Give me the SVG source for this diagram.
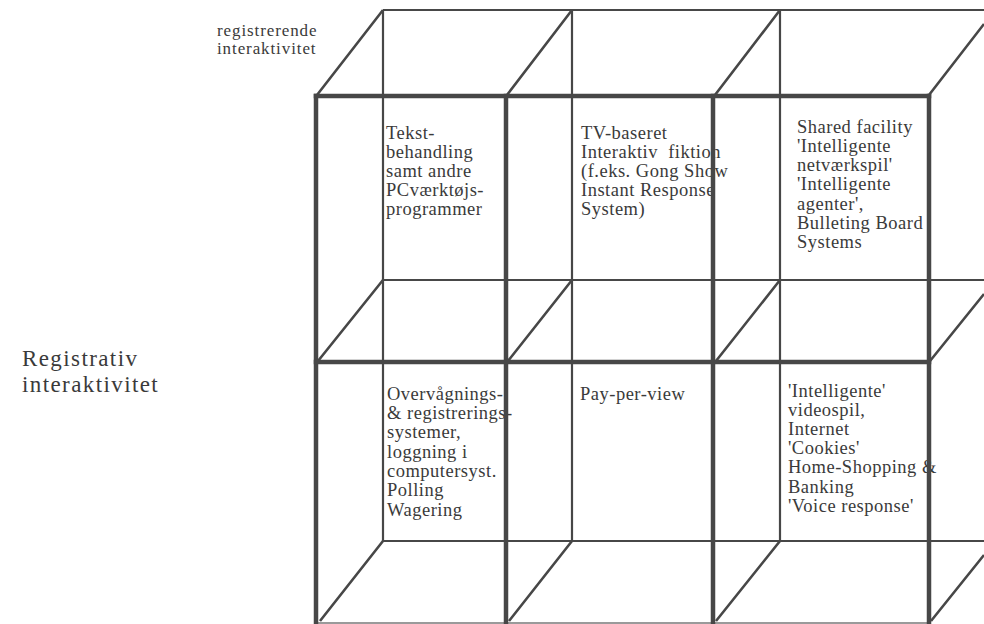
<svg xmlns="http://www.w3.org/2000/svg" width="984" height="624" viewBox="0 0 984 624">
<style>
.bg{fill:#ffffff}
.t{font-family:"Liberation Serif","Times New Roman",serif;fill:#3a3a3a;font-size:18.5px;letter-spacing:0.5px}
.big{font-size:23px;letter-spacing:1.4px}
.small{font-size:17px;letter-spacing:0.9px}
.thick{stroke:#474747;stroke-width:4.5;fill:none;stroke-linecap:square}
.thin{stroke:#474747;stroke-width:2.2;fill:none}
.diag{stroke:#474747;stroke-width:2.6;fill:none}
.faint{stroke:#9a9a9a;stroke-width:2;fill:none}
</style>
<rect class="bg" x="0" y="0" width="984" height="624"/>

<g id="labels">
<text class="t small" x="217" y="36">registrerende</text>
<text class="t small" x="217" y="54">interaktivitet</text>
<text class="t big" x="22" y="366">Registrativ</text>
<text class="t big" x="22" y="392">interaktivitet</text>
</g>

<g id="cell-top-left">
<text class="t" x="386" y="139">Tekst-</text>
<text class="t" x="386" y="158">behandling</text>
<text class="t" x="386" y="177">samt andre</text>
<text class="t" x="386" y="196">PCværktøjs-</text>
<text class="t" x="386" y="215">programmer</text>
</g>

<g id="cell-top-middle">
<text class="t" x="581" y="139">TV-baseret</text>
<text class="t" x="581" y="158" xml:space="preserve">Interaktiv  fiktion</text>
<text class="t" x="581" y="177">(f.eks. Gong Show</text>
<text class="t" x="581" y="196">Instant Response</text>
<text class="t" x="581" y="215">System)</text>
</g>

<g id="cell-top-right">
<text class="t" x="797" y="133">Shared facility</text>
<text class="t" x="797" y="152">'Intelligente</text>
<text class="t" x="797" y="171">netværkspil'</text>
<text class="t" x="797" y="190">'Intelligente</text>
<text class="t" x="797" y="210">agenter',</text>
<text class="t" x="797" y="229">Bulleting Board</text>
<text class="t" x="797" y="248">Systems</text>
</g>

<g id="cell-bottom-left">
<text class="t" x="387" y="400">Overvågnings-</text>
<text class="t" x="387" y="419">&amp; registrerings-</text>
<text class="t" x="387" y="438">systemer,</text>
<text class="t" x="387" y="458">loggning i</text>
<text class="t" x="387" y="477">computersyst.</text>
<text class="t" x="387" y="496">Polling</text>
<text class="t" x="387" y="516">Wagering</text>
</g>

<g id="cell-bottom-middle">
<text class="t" x="580" y="400">Pay-per-view</text>
</g>

<g id="cell-bottom-right">
<text class="t" x="788" y="397">'Intelligente'</text>
<text class="t" x="788" y="416">videospil,</text>
<text class="t" x="788" y="435">Internet</text>
<text class="t" x="788" y="454">'Cookies'</text>
<text class="t" x="788" y="473">Home-Shopping &amp;</text>
<text class="t" x="788" y="493">Banking</text>
<text class="t" x="788" y="512">'Voice response'</text>
</g>

<g id="connectors">
<!-- back face -->
<path class="thin" d="M383,10 H984 M383,280 H984 M383,541 H984 M383,10 V541 M572,10 V541 M780,10 V541"/>
<!-- depth diagonals -->
<path class="diag" d="M317,95 L383,10 M507,95 L572,10 M715,95 L780,10 M929,95 L984,24"/>
<path class="diag" d="M318,361 L383,280 M508,361 L572,280 M716,361 L780,280 M930,361 L984,294"/>
<path class="diag" d="M320,621 L383,541 M509,621 L572,541 M716,621 L780,541 M931,621 L984,555"/>
<!-- front face -->
<path class="faint" d="M316,623 H929"/>
<path class="thick" d="M316,96 H929 M316,362 H929"/>
<path class="thick" d="M316,96 V630 M506,96 V630 M713,96 V630 M929,96 V630"/>
</g>
</svg>
